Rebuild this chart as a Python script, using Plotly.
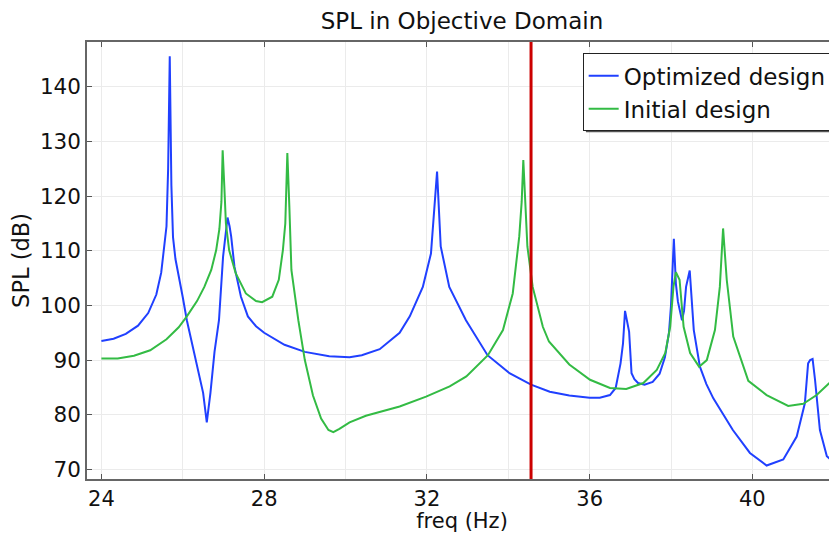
import plotly.graph_objects as go

# ---- data ----
opt_freq = [24.0, 24.3, 24.6, 24.9, 25.15, 25.35, 25.47, 25.55, 25.6, 25.64, 25.68, 25.72, 25.76, 25.82,
            25.9, 26.0, 26.1, 26.25, 26.4, 26.5, 26.59, 26.68, 26.78, 26.89, 26.99, 27.06, 27.1, 27.15,
            27.19, 27.27, 27.43, 27.6, 27.8, 28.0, 28.5, 29.0, 29.6, 30.1, 30.4, 30.84, 31.33, 31.58,
            31.9, 32.1, 32.25, 32.34, 32.55, 32.96, 33.49, 34.03, 34.56, 35.02, 35.5, 36.0, 36.25, 36.5,
            36.64, 36.76, 36.82, 36.87, 36.92, 36.97, 37.03, 37.1, 37.19, 37.35, 37.55, 37.72, 37.85,
            37.95, 38.0, 38.07, 38.12, 38.17, 38.27, 38.32, 38.37, 38.46, 38.56, 38.71, 38.87, 39.04,
            39.52, 39.94, 40.35, 40.76, 41.09, 41.29, 41.37, 41.42, 41.48, 41.54, 41.66, 41.83, 41.95, 42.0]
opt_spl = [93.5, 93.9, 94.8, 96.3, 98.6, 102.0, 106.0, 111.0, 114.5, 125.0, 145.6, 122.0, 112.5, 108.5,
           105.5, 101.5, 97.3, 92.5, 87.5, 84.0, 78.6, 84.0, 91.5, 97.3, 108.9, 113.0, 116.1, 114.5,
           112.6, 107.1, 101.6, 98.0, 96.2, 95.0, 92.8, 91.5, 90.7, 90.5, 90.9, 92.0, 95.0, 98.0,
           103.4, 109.5, 124.5, 110.8, 103.4, 97.3, 90.9, 87.6, 85.5, 84.2, 83.5, 83.1, 83.1, 83.6,
           84.9, 89.4, 93.0, 99.0, 97.0, 95.2, 87.6, 86.5, 85.8, 85.5, 86.0, 87.5, 90.5,
           95.0, 100.0, 112.2, 104.0, 100.7, 97.3, 99.0, 103.4, 106.4, 95.5, 88.8, 85.6, 83.0,
           77.2, 73.0, 70.7, 71.8, 76.0, 82.1, 89.4, 90.0, 90.2, 86.4, 77.2, 72.4, 71.6, 71.5]

init_freq = [24.0, 24.4, 24.8, 25.2, 25.6, 25.9, 26.1, 26.35, 26.53, 26.7, 26.82, 26.9, 26.95, 26.98,
             27.02, 27.06, 27.14, 27.3, 27.55, 27.8, 27.95, 28.2, 28.36, 28.46, 28.52, 28.57, 28.62,
             28.67, 28.84, 29.0, 29.2, 29.4, 29.58, 29.7, 29.85, 30.1, 30.5, 31.0, 31.33, 31.98, 32.56,
             32.97, 33.5, 33.87, 34.11, 34.27, 34.33, 34.37, 34.42, 34.47, 34.6, 34.85, 35.0, 35.5,
             36.01, 36.5, 36.9, 37.32, 37.65, 37.86, 37.98, 38.06, 38.12, 38.21, 38.31, 38.47, 38.69,
             38.88, 39.08, 39.2, 39.28, 39.37, 39.53, 39.9, 40.35, 40.88, 41.25, 41.58, 41.99]
init_spl = [90.3, 90.3, 90.8, 91.8, 93.8, 96.0, 98.0, 100.8, 103.4, 106.5, 110.1, 114.0, 119.0, 128.4,
            122.0, 115.0, 110.1, 105.9, 102.2, 100.8, 100.6, 101.6, 104.7, 110.1, 115.0, 127.9, 118.0,
            106.5, 97.3, 90.0, 83.5, 79.3, 77.2, 76.8, 77.4, 78.6, 79.8, 80.8, 81.5, 83.3, 85.2,
            87.0, 90.9, 95.5, 102.2, 112.6, 119.0, 126.6, 118.0, 110.8, 103.4, 96.1, 93.4, 89.2,
            86.4, 84.9, 84.7, 85.8, 88.2, 91.3, 96.1, 103.4, 106.1, 104.7, 96.1, 91.3, 88.8,
            90.0, 95.5, 103.4, 114.1, 104.7, 94.3, 86.2, 83.6, 81.6, 82.0, 83.6, 86.5]

marker_freq = 34.56
x_ticks = [24, 28, 32, 36, 40]
y_ticks = [70, 80, 90, 100, 110, 120, 130, 140]

FONT = "DejaVu Sans"

fig = go.Figure()
fig.add_trace(go.Scatter(x=opt_freq, y=opt_spl, mode="lines", name="Optimized design",
                         line=dict(color="#2040ff", width=2)))
fig.add_trace(go.Scatter(x=init_freq, y=init_spl, mode="lines", name="Initial design",
                         line=dict(color="#33bb44", width=2)))

fig.add_vline(x=marker_freq, line=dict(color="#cc0000", width=3), layer="above")

# legend drop shadow (paper coordinates, behind the legend box)
fig.add_shape(type="rect", xref="paper", yref="paper",
              x0=0.6652, x1=0.9973, y0=0.7933, y1=0.9673,
              fillcolor="#555555", line=dict(width=0), layer="above")

fig.update_layout(
    width=829, height=525,
    margin=dict(l=79, r=0, t=34, b=54),
    paper_bgcolor="white", plot_bgcolor="white",
    font=dict(family=FONT, size=21, color="#111111"),
    title=dict(text="SPL in Objective Domain", x=0.5, xref="paper", xanchor="center",
               y=0.976, yref="container", yanchor="middle",
               font=dict(family=FONT, size=23, color="#111111")),
    showlegend=True,
    legend=dict(x=0.9929, xanchor="right", y=0.9741, yanchor="top",
                bgcolor="white", bordercolor="#222222", borderwidth=1,
                font=dict(family=FONT, size=23, color="#111111"),
                tracegroupgap=0, itemwidth=30),
)

fig.update_xaxes(
    range=[23.646, 42.08], tickvals=x_ticks, ticktext=[str(v) for v in x_ticks],
    ticks="inside", ticklen=5, tickcolor="#555555",
    showline=True, linecolor="#666666", linewidth=1.5, mirror="ticks",
    showgrid=True, gridcolor="#ebebeb", gridwidth=1,
    minor=dict(dtick=2, tick0=24, showgrid=True, gridcolor="#ebebeb", ticklen=0),
    zeroline=False, automargin=False,
    title=dict(text="freq (Hz)", standoff=6, font=dict(family=FONT, size=21)),
    tickfont=dict(family=FONT, size=21),
)
fig.update_yaxes(
    range=[68.23, 148.23], tickvals=y_ticks, ticktext=[str(v) for v in y_ticks],
    ticks="inside", ticklen=5, tickcolor="#555555",
    showline=True, linecolor="#666666", linewidth=1.5, mirror="ticks",
    showgrid=True, gridcolor="#ebebeb", gridwidth=1,
    zeroline=False, automargin=False,
    title=dict(text="SPL (dB)", standoff=4, font=dict(family=FONT, size=22.5)),
    tickfont=dict(family=FONT, size=21.5),
)

fig.write_html("out.html")
